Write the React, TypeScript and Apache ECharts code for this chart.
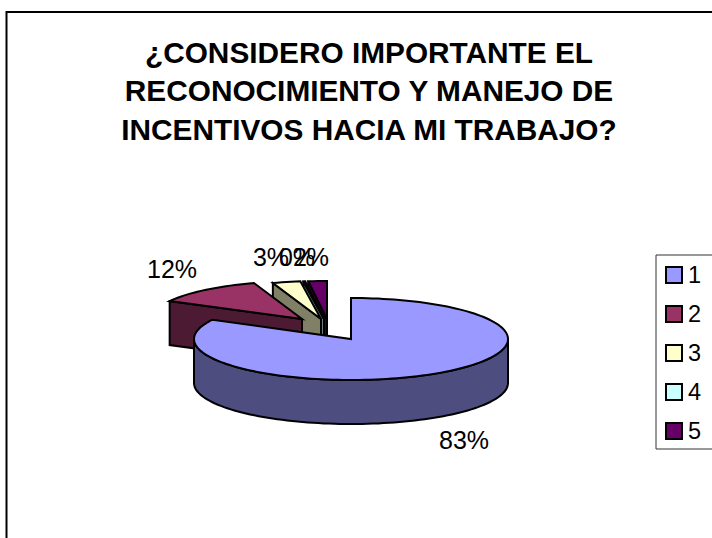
import React, { useEffect, useRef } from "react";
import * as echarts from "echarts";

const titleText = "¿CONSIDERO IMPORTANTE EL\nRECONOCIMIENTO Y MANEJO DE\nINCENTIVOS HACIA MI TRABAJO?";
const categories = ["1", "2", "3", "4", "5"];
const shareValues = [82.8, 12, 3, 0.2, 2];
const topColors = ["#9999ff", "#993366", "#ffffcc", "#ccffff", "#660066"];
const sideColors = ["#4d4d80", "#4d1a33", "#808066", "#668080", "#330033"];

// Pie geometry: elliptical top face, extruded downwards
const CX = 351;
const CY = 339;
const DEPTH = 44;
const sliceRadii = [[157, 41], [150, 38], [150, 38], [150, 38], [150, 38]];
const sliceOffsets = [[0, 0], [-49, -20], [-30, -20], [-27, -20], [-24, -20]];
const labelPositions = [[464, 440], [172, 269], [271, 257], [297, 257], [311, 257]];

const total = shareValues.reduce((a, b) => a + b, 0);
const startAngles = shareValues.map((_, i) =>
  shareValues.slice(0, i).reduce((a, b) => a + b, 0) / total * 360
);

const toRad = (deg: number) => (deg * Math.PI) / 180;

function rimPoints(cx: number, cy: number, rx: number, ry: number, from: number, to: number) {
  const pts: number[][] = [];
  const steps = Math.max(2, Math.ceil(Math.abs(to - from) / 2));
  for (let s = 0; s <= steps; s++) {
    const a = toRad(from + ((to - from) * s) / steps);
    pts.push([cx + rx * Math.sin(a), cy - ry * Math.cos(a)]);
  }
  return pts;
}

const edge = { stroke: "#000", lineWidth: 2, lineJoin: "miter" as const };

function sliceRenderer(index: number) {
  return (_params: any, api: any) => {
    const value = api.value(0);
    const sweep = (value / total) * 360;
    const from = startAngles[index];
    const to = from + sweep;
    const [rx, ry] = sliceRadii[index];
    const cx = CX + sliceOffsets[index][0];
    const cy = CY + sliceOffsets[index][1];
    const children: any[] = [];

    if (index === 0) {
      // front curved side of the main slice
      const front = rimPoints(cx, cy, rx, ry, 90, 270);
      const lower = front.map(([x, y]) => [x, y + DEPTH]).reverse();
      children.push({
        type: "polygon",
        shape: { points: [...front, ...lower] },
        style: { fill: sideColors[index], ...edge },
      });
    } else {
      // radial wall facing the viewer on an exploded slice
      const [corner] = rimPoints(cx, cy, rx, ry, from, from);
      const wall = [corner, [cx, cy], [cx, cy + DEPTH], [corner[0], corner[1] + DEPTH]];
      children.push({
        type: "polygon",
        shape: { points: wall },
        style: { fill: sideColors[index], ...edge },
      });
    }

    children.push({
      type: "polygon",
      shape: { points: [[cx, cy], ...rimPoints(cx, cy, rx, ry, from, to)] },
      style: { fill: topColors[index], ...edge },
    });
    return { type: "group", children };
  };
}

export default function App() {
  const ref = useRef<HTMLDivElement>(null);

  useEffect(() => {
    const chart = echarts.init(ref.current!, undefined, { renderer: "svg" });
    const font = "'Liberation Sans', Arial, sans-serif";
    const labelGraphics = shareValues.map((v, i) => ({
      type: "text",
      x: labelPositions[i][0],
      y: labelPositions[i][1],
      z: 20,
      style: {
        text: `${Math.round((v / total) * 100)}%`,
        font: `25px ${font}`,
        fill: "#000",
        align: "center",
        verticalAlign: "middle",
      },
    }));

    chart.setOption({
      animation: false,
      backgroundColor: "#fff",
      title: {
        text: titleText,
        left: 364,
        top: 28,
        textAlign: "center",
        textStyle: {
          fontFamily: font,
          fontWeight: "bold",
          fontSize: 29.8,
          lineHeight: 38.5,
          color: "#000",
        },
      },
      legend: {
        data: categories,
        orient: "vertical",
        left: 656,
        top: 255,
        icon: "rect",
        itemWidth: 16,
        itemHeight: 16,
        itemGap: 15,
        padding: [8, 30, 6, 9],
        backgroundColor: "#fff",
        borderColor: "#333",
        borderWidth: 1,
        selectedMode: false,
        itemStyle: { borderColor: "#000", borderWidth: 2 },
        textStyle: { fontFamily: font, fontSize: 23.5, color: "#000", padding: [0, 0, 0, 1] },
      },
      graphic: [
        {
          type: "polyline",
          z: 0,
          shape: { points: [[6.5, 538], [6.5, 12], [712, 12]] },
          style: { stroke: "#000", lineWidth: 2, fill: "none" },
        },
        ...labelGraphics,
      ],
      // later series paint on top, so the main slice comes last
      series: categories
        .map((name, i) => ({
          type: "custom",
          name,
          coordinateSystem: "none",
          silent: true,
          clip: false,
          itemStyle: { color: topColors[i] },
          data: [[shareValues[i]]],
          renderItem: sliceRenderer(i),
        }))
        .reverse(),
    });
    return () => chart.dispose();
  }, []);

  return <div ref={ref} style={{ position: "fixed", left: 0, top: 0, width: 712, height: 538 }} />;
}
